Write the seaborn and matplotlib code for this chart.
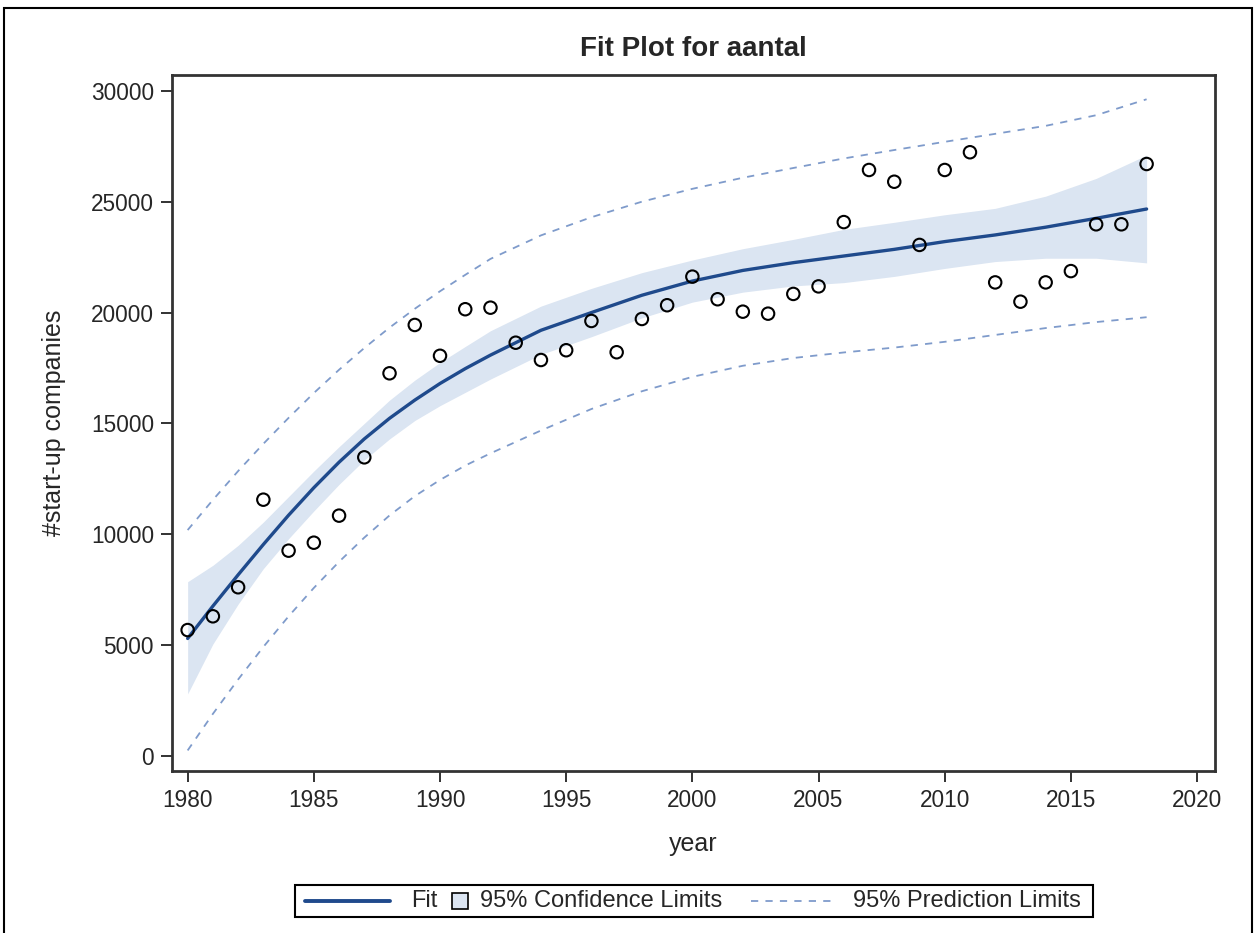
import matplotlib
matplotlib.use("Agg")
import matplotlib.pyplot as plt
from matplotlib.lines import Line2D
from matplotlib.patches import Rectangle
import seaborn as sns
import pandas as pd

# observed start-ups per year
years = list(range(1980, 2019))
counts = [5680, 6300, 7610, 11560, 9260, 9620, 10840, 13470, 17260, 19440,
          18050, 20150, 20220, 18640, 17860, 18300, 19620, 18210, 19710, 20330,
          21620, 20600, 20040, 19950, 20840, 21180, 24080, 26430, 25900, 23050,
          26430, 27230, 21360, 20490, 21360, 21870, 23980, 23980, 26700]

# fitted curve, confidence and prediction limits
fit_years = [1980, 1981, 1982, 1983, 1984, 1985, 1986, 1987, 1988, 1989,
             1990, 1991, 1992, 1994, 1996, 1998, 2000, 2002, 2004, 2006,
             2008, 2010, 2012, 2014, 2016, 2018]
fit = [5300, 6760, 8170, 9540, 10860, 12100, 13250, 14300, 15230, 16050,
       16800, 17470, 18080, 19200, 20000, 20780, 21420, 21900, 22250, 22550,
       22850, 23200, 23500, 23850, 24250, 24670]
cl_low = [2800, 5050, 6850, 8450, 9800, 11050, 12250, 13350, 14300, 15130,
          15800, 16400, 17000, 18110, 18910, 19760, 20470, 20920, 21200, 21350,
          21630, 21990, 22300, 22450, 22450, 22240]
cl_high = [7860, 8600, 9500, 10550, 11700, 12850, 13950, 15000, 16050, 16950,
           17750, 18470, 19180, 20290, 21090, 21800, 22370, 22880, 23300, 23750,
           24070, 24410, 24700, 25250, 26050, 27100]
pl_low = [250, 1900, 3450, 4920, 6300, 7580, 8760, 9850, 10850, 11720,
          12450, 13100, 13650, 14680, 15650, 16450, 17100, 17600, 17950, 18200,
          18420, 18680, 18990, 19300, 19570, 19790]
pl_high = [10190, 11550, 12850, 14080, 15250, 16370, 17420, 18400, 19320, 20170,
           20960, 21700, 22420, 23480, 24300, 25000, 25580, 26080, 26520, 26950,
           27330, 27700, 28060, 28420, 28900, 29620]

obs = pd.DataFrame({"year": years, "aantal": counts})
curves = pd.DataFrame({"year": fit_years, "fit": fit, "cl_low": cl_low,
                       "cl_high": cl_high, "pl_low": pl_low, "pl_high": pl_high})

FIT_C = "#1f4a8c"
BAND_C = "#dbe5f2"
PRED_C = "#7f9bcb"
W, H = 1255, 933

sns.set_style("white")
plt.rcParams["font.family"] = ["Liberation Sans", "DejaVu Sans"]

fig = plt.figure(figsize=(W / 100, H / 100), dpi=100)
ax = fig.add_axes([172 / W, 1 - 771 / H, (1215 - 172) / W, (771 - 75) / H])

ax.fill_between(curves["year"], curves["cl_low"], curves["cl_high"],
                color=BAND_C, lw=0, zorder=1)
for col in ["pl_low", "pl_high"]:
    sns.lineplot(data=curves, x="year", y=col, ax=ax, color=PRED_C, lw=1.3, zorder=2)
    ax.lines[-1].set_dashes((4, 4))
sns.lineplot(data=curves, x="year", y="fit", ax=ax, color=FIT_C, lw=2.4, zorder=3)
sns.scatterplot(data=obs, x="year", y="aantal", ax=ax, s=80, facecolor="none",
                edgecolor="black", linewidth=1.5, zorder=4)

ax.set_xlim(1979.38, 2020.71)
ax.set_ylim(-677, 30714)
ax.set_xticks(range(1980, 2021, 5))
ax.set_yticks(range(0, 30001, 5000))
ax.tick_params(axis="both", which="both", direction="out", length=8, width=1.3,
               pad=5, labelsize=16.3, color="#222222", bottom=True, left=True)
for s in ax.spines.values():
    s.set_color("#333333")
    s.set_linewidth(2)

ax.set_xlabel("year", fontsize=18, labelpad=14)
ax.set_ylabel("#start-up companies", fontsize=18, labelpad=18)
ax.set_title("Fit Plot for aantal", fontsize=20, fontweight="bold", pad=14)


# legend box drawn by hand so the square sits tight like the SAS one
def px(x, y):
    return x / W, 1 - y / H


ly = 901
fig.patches.append(Rectangle(px(295, 917), 798 / W, 32 / H, transform=fig.transFigure,
                             fill=False, edgecolor="black", lw=1.5))
fig.lines.append(Line2D([305 / W, 390 / W], [px(0, ly)[1]] * 2, transform=fig.transFigure,
                        color=FIT_C, lw=2.8))
fig.text(*px(411, ly), "Fit", fontsize=17, va="center", ha="left")
fig.patches.append(Rectangle(px(452, 909), 16 / W, 16 / H, transform=fig.transFigure,
                             facecolor=BAND_C, edgecolor="black", lw=1.2))
fig.text(*px(480, ly), "95% Confidence Limits", fontsize=17, va="center", ha="left")
fig.lines.append(Line2D([751 / W, 833 / W], [px(0, ly)[1]] * 2, transform=fig.transFigure,
                        color=PRED_C, lw=1.3, dashes=(4, 4)))
fig.text(*px(853, ly), "95% Prediction Limits", fontsize=17, va="center", ha="left")

# outer frame of the image
fig.patches.append(Rectangle((0.003, -0.02), 0.995, 1.011, transform=fig.transFigure,
                             fill=False, edgecolor="black", lw=1.5))

fig.savefig("out.png", dpi=100)
